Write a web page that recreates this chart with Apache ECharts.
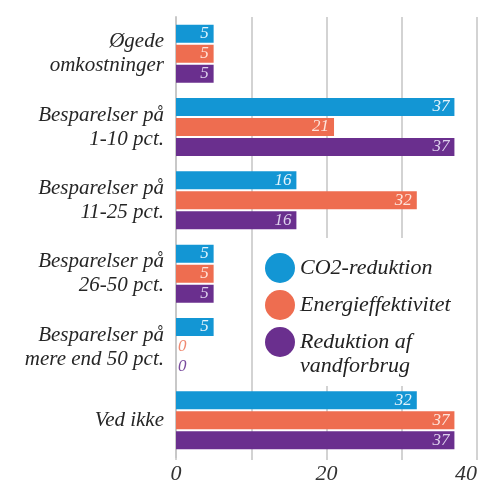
<!DOCTYPE html>
<html>
<head>
<meta charset="utf-8">
<script src="https://cdn.jsdelivr.net/npm/echarts@6/dist/echarts.min.js"></script>
<style>
  html, body { margin: 0; padding: 0; background: #fff; }
  #chart { width: 480px; height: 485px; }
</style>
</head>
<body>
<div id="chart"></div>
<script>
var categories = ['Øgede\nomkostninger', 'Besparelser på\n1-10 pct.', 'Besparelser på\n11-25 pct.',
    'Besparelser på\n26-50 pct.', 'Besparelser på\nmere end 50 pct.', 'Ved ikke'];
var seriesNames = ['CO2-reduktion', 'Energieffektivitet', 'Reduktion af\nvandforbrug'];
var co2 = [5, 37, 16, 5, 5, 32];
var energi = [5, 21, 32, 5, 0, 37];
var vand = [5, 37, 16, 5, 0, 37];

var font = "'Liberation Serif', 'DejaVu Serif', serif";
var colors = ['#1396d4', '#ee6d50', '#6a2f8e'];
var labelColors = ['#e4f3fb', '#fde4dc', '#ddd0ec'];
var zeroColors = ['#1396d4', '#f08a72', '#7a4c9e'];

// 0-verdier skrives udenfor baren i seriens farve
function makeData(values, idx) {
    return values.map(function (v) {
        if (v === 0) {
            return { value: v, label: { position: 'right', distance: 2, color: zeroColors[idx] } };
        }
        return v;
    });
}

function makeSeries(values, idx) {
    return {
        name: seriesNames[idx],
        type: 'bar',
        data: makeData(values, idx),
        barWidth: 18,
        barGap: '11%',
        itemStyle: { color: colors[idx] },
        label: {
            show: true,
            position: 'insideRight',
            distance: 5,
            color: labelColors[idx],
            fontFamily: font,
            fontStyle: 'italic',
            fontSize: 17
        }
    };
}

var legendText = {
    fontFamily: font,
    fontStyle: 'italic',
    fontSize: 22,
    lineHeight: 24,
    color: '#222'
};

var myChart = echarts.init(document.getElementById('chart'));
var option = {
    animation: false,
    backgroundColor: '#fff',
    grid: { left: 176, right: 3, top: 17, bottom: 24 },
    legend: [
        {
            // hvid boks bag forklaringen, dækker gitterlinjerne
            data: [seriesNames[0], seriesNames[1]],
            orient: 'vertical',
            left: 258, top: 238,
            padding: [15, 10, 66, 7],
            itemWidth: 30, itemHeight: 30, itemGap: 7,
            icon: 'circle',
            backgroundColor: '#fff',
            textStyle: legendText
        },
        {
            // tom første linje, så teksten starter ud for cirklen
            data: [seriesNames[2]],
            orient: 'vertical',
            left: 258, top: 301,
            padding: [5, 10, 5, 7],
            itemWidth: 30, itemHeight: 30,
            icon: 'circle',
            formatter: function (name) { return '\n' + name; },
            textStyle: legendText
        }
    ],
    xAxis: {
        type: 'value',
        min: 0, max: 40, interval: 10,
        axisLine: { show: false },
        axisTick: { show: true, length: 3, lineStyle: { color: '#c4c4c4', width: 1.5 } },
        splitLine: { lineStyle: { color: '#c4c4c4', width: 1.5 } },
        axisLabel: {
            formatter: function (v) { return v % 20 === 0 ? String(v) : ''; },
            fontFamily: font,
            fontStyle: 'italic',
            fontSize: 22,
            color: '#333',
            margin: 6,
            alignMaxLabel: 'right'
        }
    },
    yAxis: {
        type: 'category',
        data: categories,
        inverse: true,
        axisLine: { show: true, lineStyle: { color: '#c8c8c8', width: 2 } },
        axisTick: { show: false },
        axisLabel: {
            fontFamily: font,
            fontStyle: 'italic',
            fontSize: 21,
            lineHeight: 24,
            color: '#262626',
            margin: 12,
            align: 'right'
        }
    },
    series: [
        makeSeries(co2, 0),
        makeSeries(energi, 1),
        makeSeries(vand, 2)
    ]
};
myChart.setOption(option);
</script>
</body>
</html>
